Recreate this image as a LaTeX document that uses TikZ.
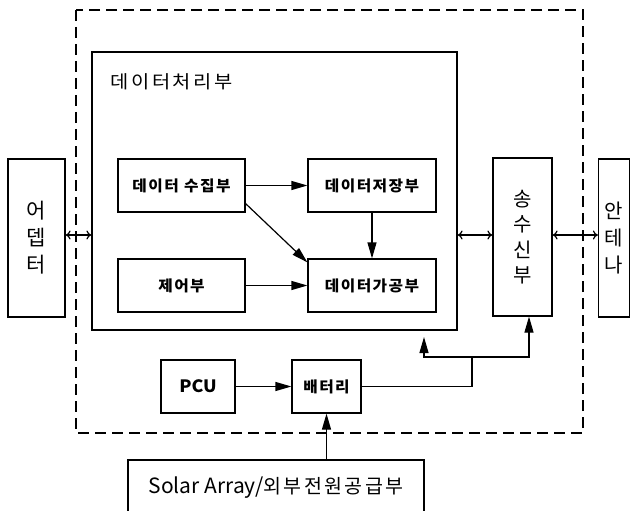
\documentclass[tikz,border=0pt]{standalone}
\usepackage{fontspec}
\setmainfont{Noto Sans CJK KR}
\usetikzlibrary{arrows.meta,calc}
\begin{document}
\begin{tikzpicture}[x=1pt,y=-1pt,
  box/.style={draw,line width=1.2pt,rectangle,inner sep=0pt},
  inbox/.style={box,minimum width=127pt,minimum height=53pt,font=\bfseries\fontsize{15}{18}\selectfont\addfontfeatures{LetterSpace=10,FakeStretch=1.05}},
  vbox/.style={box,minimum height=158pt,align=center},
  conn/.style={line width=1.2pt},
  farrow/.style={conn,-{Triangle[length=16pt,width=9pt]}},
  darrow/.style={conn,{To[length=5pt,width=9pt]}-{To[length=5pt,width=9pt]}}]
\useasboundingbox (0,0) rectangle (630,511);
% outer dashed frame
\draw[line width=1.5pt,dash pattern=on 11pt off 6pt] (76,10) rectangle (583,433);
% side boxes
\node[vbox,minimum width=57pt,font=\fontsize{21}{27}\selectfont] (adapter) at (36.5,238) {어\\뎁\\터};
\node[vbox,minimum width=59pt,font=\fontsize{20}{25.5}\selectfont] (trx) at (522.5,237) {송\\수\\신\\부};
\node[vbox,minimum width=31pt,font=\fontsize{20}{27}\selectfont] (ant) at (614,238) {안\\테\\나};
% data processing box
\node[box,minimum width=365pt,minimum height=278pt] (dp) at (274.5,191) {};
\node[anchor=west,inner sep=0pt,font=\fontsize{18}{22}\selectfont\addfontfeatures{LetterSpace=15,FakeStretch=1.1}] (dptitle) at (110,82) {데이터처리부};
% inner boxes
\node[inbox] (collect) at (181.5,185.5) {데이터 수집부};
\node[inbox,minimum width=128pt] (store) at (372,185.5) {데이터저장부};
\node[inbox] (ctrl) at (181.5,285.5) {제어부};
\node[inbox,minimum width=128pt] (proc) at (372,285.5) {데이터가공부};
% power
\node[box,minimum width=74pt,minimum height=53pt,font=\bfseries\fontsize{17}{18}\selectfont\addfontfeatures{FakeStretch=1.05}] (pcu) at (198,386.5) {PCU};
\node[box,minimum width=69pt,minimum height=53pt,font=\bfseries\fontsize{15}{18}\selectfont\addfontfeatures{LetterSpace=10,FakeStretch=1.05}] (bat) at (326.5,386.5) {배터리};
\node[box,minimum width=296pt,minimum height=56pt,font=\fontsize{21}{22}\selectfont] (solar) at (276,488) {Solar Array/{\fontsize{19.5}{22}\selectfont\addfontfeatures{LetterSpace=12}외부전원공급부}};
% connectors
\draw[farrow] (collect.east) -- (store.west);
\draw[farrow] (store.south) -- (proc.north);
\draw[farrow] ($(collect.south east)+(0,-9)$) -- ($(proc.north west)+(0,4)$);
\draw[farrow] (ctrl.east) -- (proc.west);
\draw[darrow] ($(adapter.east)+(0,-3)$) -- ($(adapter.east -| dp.west)+(0,-3)$);
\draw[darrow] ($(dp.east |- adapter.east)+(0,-3)$) -- ($(trx.west |- adapter.east)+(0,-3)$);
\draw[darrow] ($(trx.east |- adapter.east)+(0,-3)$) -- ($(ant.west)+(0,-3)$);
\draw[farrow] (pcu.east) -- (bat.west);
\draw[farrow] (solar.north -| bat.south) -- (bat.south);
\coordinate (j) at (472,357);
\coordinate (l) at (424,357);
\coordinate (r) at (529,357);
\coordinate (ltip) at (424,337);
\draw[conn] (bat.east) -| (j);
\draw[farrow] (j) -- (l) -- (ltip);
\draw[farrow] (j) -- (r) -- (r |- trx.south);
\end{tikzpicture}
\end{document}
